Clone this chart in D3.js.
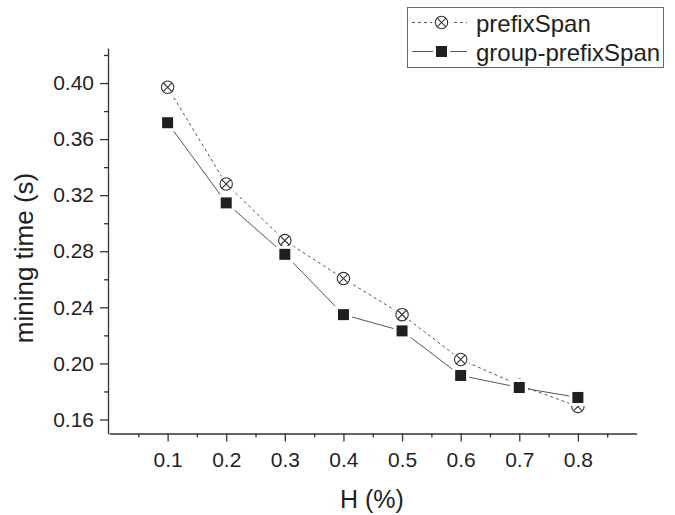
<!DOCTYPE html>
<html>
<head>
<meta charset="utf-8">
<script src="https://cdn.jsdelivr.net/npm/d3@7"></script>
<style>
  body { margin: 0; background: #fff; }
  svg text { font-family: "Liberation Sans", Arial, sans-serif; fill: #231f20; }
</style>
</head>
<body>
<svg id="chart" width="675" height="515"></svg>
<script>
// data
const hValues = [0.1, 0.2, 0.3, 0.4, 0.5, 0.6, 0.7, 0.8];
const prefixSpan = [0.397, 0.328, 0.2876, 0.2605, 0.2348, 0.2028, 0.1845, 0.1693];
const groupPrefixSpan = [0.3717, 0.3145, 0.2778, 0.2348, 0.2232, 0.1914, 0.1828, 0.1757];
const xTicks = [0.1, 0.2, 0.3, 0.4, 0.5, 0.6, 0.7, 0.8];
const xMinorTicks = [0.05, 0.15, 0.25, 0.35, 0.45, 0.55, 0.65, 0.75, 0.85];
const yTicks = [0.16, 0.2, 0.24, 0.28, 0.32, 0.36, 0.4];
const yMinorTicks = [0.18, 0.22, 0.26, 0.3, 0.34, 0.38, 0.42];
const seriesNames = ["prefixSpan", "group-prefixSpan"];

const svg = d3.select("#chart");

//Scales
const x = d3.scaleLinear().domain([0, 0.9]).range([109, 636.5]);
const y = d3.scaleLinear().domain([0.15, 0.425]).range([433.5, 48]);

const axisColor = "#333";

//Bottom axis
svg.append("g")
  .attr("transform", `translate(0, ${y(0.15)})`)
  .call(d3.axisBottom(x).tickValues(xTicks).tickSize(8).tickSizeOuter(0)
    .tickPadding(11).tickFormat(d3.format(".1f")));
svg.append("g")
  .attr("transform", `translate(0, ${y(0.15)})`)
  .call(d3.axisBottom(x).tickValues(xMinorTicks).tickSize(4).tickSizeOuter(0).tickFormat(""))
  .select(".domain").remove();

//Left axis
svg.append("g")
  .attr("transform", `translate(${x(0) - 1}, 0)`)
  .call(d3.axisLeft(y).tickValues(yTicks).tickSize(8).tickSizeOuter(0)
    .tickPadding(6).tickFormat(d3.format(".2f")));
svg.append("g")
  .attr("transform", `translate(${x(0) - 1}, 0)`)
  .call(d3.axisLeft(y).tickValues(yMinorTicks).tickSize(4).tickSizeOuter(0).tickFormat(""))
  .select(".domain").remove();

svg.selectAll(".domain, .tick line")
  .attr("stroke", axisColor)
  .attr("stroke-width", 1.3);
svg.selectAll(".tick text")
  .style("font-size", "21px")
  .attr("fill", "#231f20")
  .style("font-family", '"Liberation Sans", Arial, sans-serif');

//Axis titles
svg.append("text")
  .attr("x", 372)
  .attr("y", 508)
  .attr("text-anchor", "middle")
  .attr("font-size", 25)
  .text("H (%)");

svg.append("text")
  .attr("transform", "translate(33, 258) rotate(-90)")
  .attr("text-anchor", "middle")
  .attr("font-size", 26)
  .text("mining time (s)");

//Lines
const line = d3.line().x((d, i) => x(hValues[i])).y((d) => y(d));

svg.append("path")
  .datum(prefixSpan)
  .attr("d", line)
  .attr("fill", "none")
  .attr("stroke", "#555")
  .attr("stroke-width", 1)
  .attr("stroke-dasharray", "3,3");

svg.append("path")
  .datum(groupPrefixSpan)
  .attr("d", line)
  .attr("fill", "none")
  .attr("stroke", "#555")
  .attr("stroke-width", 1);

//Marker drawing helpers
const drawCrossCircle = (g, cx, cy, r) => {
  g.append("circle").attr("cx", cx).attr("cy", cy).attr("r", r + 3).attr("fill", "#fff");
  g.append("circle").attr("cx", cx).attr("cy", cy).attr("r", r)
    .attr("fill", "#fff").attr("stroke", "#333").attr("stroke-width", 1.1);
  const k = r * Math.SQRT1_2;
  g.append("line").attr("x1", cx - k).attr("y1", cy - k).attr("x2", cx + k).attr("y2", cy + k)
    .attr("stroke", "#333").attr("stroke-width", 1.1);
  g.append("line").attr("x1", cx - k).attr("y1", cy + k).attr("x2", cx + k).attr("y2", cy - k)
    .attr("stroke", "#333").attr("stroke-width", 1.1);
};
const drawSquare = (g, cx, cy, s) => {
  g.append("rect").attr("x", cx - s / 2 - 3).attr("y", cy - s / 2 - 3)
    .attr("width", s + 6).attr("height", s + 6).attr("fill", "#fff");
  g.append("rect").attr("x", cx - s / 2).attr("y", cy - s / 2)
    .attr("width", s).attr("height", s).attr("fill", "#231f20");
};

//Markers: prefixSpan first, group squares on top
const markerLayer = svg.append("g");
prefixSpan.forEach((v, i) => drawCrossCircle(markerLayer, x(hValues[i]), y(v), 6.2));
groupPrefixSpan.forEach((v, i) => drawSquare(markerLayer, x(hValues[i]), y(v), 11));

//Legend
const legend = svg.append("g");
legend.append("rect")
  .attr("x", 407.5).attr("y", 7.5)
  .attr("width", 256).attr("height", 60)
  .attr("fill", "#fff").attr("stroke", "#666").attr("stroke-width", 1);

const legendRows = [22.5, 51.5];
legend.append("line")
  .attr("x1", 412).attr("x2", 467).attr("y1", legendRows[0]).attr("y2", legendRows[0])
  .attr("stroke", "#555").attr("stroke-dasharray", "3,3");
legend.append("line")
  .attr("x1", 412).attr("x2", 467).attr("y1", legendRows[1]).attr("y2", legendRows[1])
  .attr("stroke", "#555");
drawCrossCircle(legend, 441.5, legendRows[0], 6.2);
drawSquare(legend, 441.5, legendRows[1], 11);

legend.selectAll("text.legend-label")
  .data(seriesNames)
  .enter()
  .append("text")
  .attr("class", "legend-label")
  .attr("x", 476)
  .attr("y", (d, i) => legendRows[i] + 9)
  .attr("font-size", 24)
  .text((d) => d);
</script>
</body>
</html>
